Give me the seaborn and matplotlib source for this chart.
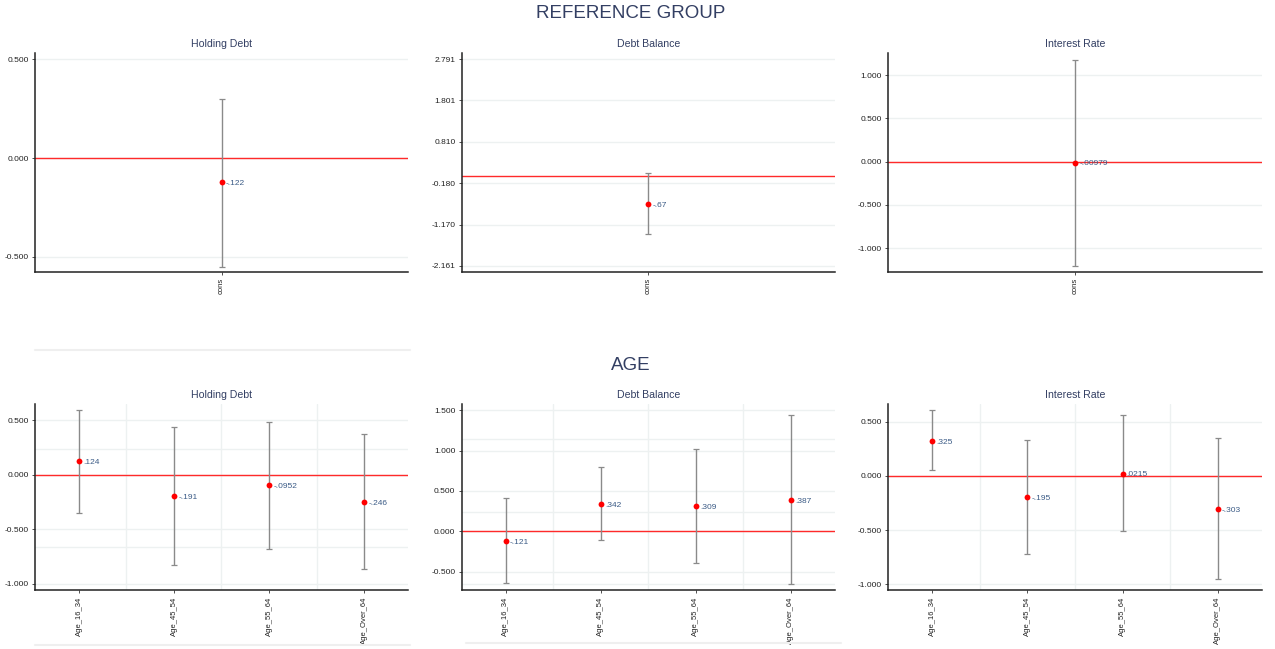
import numpy as np
import pandas as pd
import matplotlib
matplotlib.use("Agg")
import matplotlib.pyplot as plt
from matplotlib.lines import Line2D
import seaborn as sns

# ---------------- data ----------------
ref_cats = ["cons"]
ref_holding = [-0.122]
ref_holding_lo = [-0.549]
ref_holding_hi = [0.301]
ref_holding_lbl = ["-.122"]

ref_balance = [-0.67]
ref_balance_lo = [-1.40]
ref_balance_hi = [0.06]
ref_balance_lbl = ["-.67"]

ref_rate = [-0.00979]
ref_rate_lo = [-1.207]
ref_rate_hi = [1.179]
ref_rate_lbl = ["-.00979"]

age_cats = ["Age_16_34", "Age_45_54", "Age_55_64", "Age_Over_64"]
age_holding = [0.124, -0.191, -0.0952, -0.246]
age_holding_lo = [-0.351, -0.829, -0.682, -0.865]
age_holding_hi = [0.596, 0.443, 0.489, 0.373]
age_holding_lbl = [".124", "-.191", "-.0952", "-.246"]

age_balance = [-0.121, 0.342, 0.309, 0.387]
age_balance_lo = [-0.644, -0.111, -0.396, -0.656]
age_balance_hi = [0.412, 0.800, 1.019, 1.439]
age_balance_lbl = ["-.121", ".342", ".309", ".387"]

age_rate = [0.325, -0.195, 0.0215, -0.303]
age_rate_lo = [0.050, -0.722, -0.513, -0.955]
age_rate_hi = [0.606, 0.332, 0.557, 0.347]
age_rate_lbl = [".325", "-.195", ".0215", "-.303"]

panel_titles = ["Holding Debt", "Debt Balance", "Interest Rate"]
group_titles = ["REFERENCE GROUP", "AGE"]

ticks_ref_holding = [-0.5, 0.0, 0.5]
ticks_ref_balance = [-2.161, -1.170, -0.180, 0.810, 1.801, 2.791]
ticks_ref_rate = [-1.0, -0.5, 0.0, 0.5, 1.0]
ticks_age_holding = [-1.0, -0.5, 0.0, 0.5]
ticks_age_balance = [-0.5, 0.0, 0.5, 1.0, 1.5]
ticks_age_rate = [-1.0, -0.5, 0.0, 0.5]

# ---------------- style ----------------
sns.set_theme(style="white")
plt.rcParams["font.family"] = ["Liberation Sans", "DejaVu Sans"]

TITLE_C = "#333f63"
LABEL_C = "#3b5b86"
GRID_C = "#edf1f1"
ERR_C = "#8a8a8a"

fig = plt.figure(figsize=(12.75, 6.49), dpi=100)
W, H = 1275, 649


def make_ax(left, top, width, height):
    return fig.add_axes([left / W, 1 - (top + height) / H, width / W, height / H])


lefts = [35, 461.7, 888.3]
widths = [373, 373.3, 373.4]

panels = [
    # row, col, cats, vals, lo, hi, labels, ticks, ylim, extra_grid
    (0, 0, ref_cats, ref_holding, ref_holding_lo, ref_holding_hi, ref_holding_lbl,
     ticks_ref_holding, (-0.576, 0.532), []),
    (0, 1, ref_cats, ref_balance, ref_balance_lo, ref_balance_hi, ref_balance_lbl,
     ticks_ref_balance, (-2.305, 2.935), []),
    (0, 2, ref_cats, ref_rate, ref_rate_lo, ref_rate_hi, ref_rate_lbl,
     ticks_ref_rate, (-1.277, 1.258), []),
    (1, 0, age_cats, age_holding, age_holding_lo, age_holding_hi, age_holding_lbl,
     ticks_age_holding, (-1.058, 0.651), [0.238, -0.658]),
    (1, 1, age_cats, age_balance, age_balance_lo, age_balance_hi, age_balance_lbl,
     ticks_age_balance, (-0.730, 1.576), [1.139, 0.243, -0.651]),
    (1, 2, age_cats, age_rate, age_rate_lo, age_rate_hi, age_rate_lbl,
     ticks_age_rate, (-1.056, 0.663), []),
]

for row, col, cats, vals, lo, hi, lbls, ticks, ylim, extra in panels:
    if row == 0:
        ax = make_ax(lefts[col], 53, widths[col], 219)
    else:
        ax = make_ax(lefts[col], 404, widths[col], 186.3)

    df = pd.DataFrame({"cat": cats, "val": vals, "lo": lo, "hi": hi})
    pos = np.arange(len(cats))

    # gridlines
    for t in ticks:
        ax.axhline(t, color=GRID_C, lw=1.0, zorder=0)
    for t in extra:
        ax.axhline(t, color=GRID_C, lw=1.0, zorder=0)
    if len(cats) > 1:
        for p in pos[:-1] + 0.5:
            ax.axvline(p, color=GRID_C, lw=1.0, zorder=0)

    # zero reference line
    ax.axhline(0, color="#ff2a2a", lw=1.0, zorder=1)

    # error bars (confidence intervals)
    yerr = np.vstack([df["val"] - df["lo"], df["hi"] - df["val"]])
    ax.errorbar(pos, df["val"], yerr=yerr, fmt="none", ecolor=ERR_C,
                elinewidth=1.0, capsize=2, capthick=0.9, zorder=2)

    # points
    sns.stripplot(data=df, x="cat", y="val", jitter=False, color="red",
                  size=4.2, linewidth=0, ax=ax, zorder=3)

    # value labels
    for p, v, s in zip(pos, df["val"], lbls):
        ax.annotate(s, xy=(p, v), xytext=(3, -1), textcoords="offset points",
                    ha="left", va="center", fontsize=6, color=LABEL_C, zorder=4)

    if len(cats) > 1:
        ax.set_xlim(-0.463, len(cats) - 1 + 0.463)
    else:
        ax.set_xlim(-0.5, 0.5)
    ax.set_ylim(*ylim)
    ax.set_yticks(ticks)
    ax.set_yticklabels([f"{t:.3f}" for t in ticks])
    ax.set_xticks(pos)
    ax.set_xticklabels(cats, rotation=90)
    ax.set_xlabel("")
    ax.set_ylabel("")
    ax.tick_params(axis="both", length=2.5, width=0.6,
                   color="#333333", pad=2, labelcolor="#222222",
                   bottom=True, left=True)
    ax.tick_params(axis="y", labelsize=6)
    ax.tick_params(axis="x", labelsize=5.5)
    sns.despine(ax=ax)
    for sp in ["left", "bottom"]:
        ax.spines[sp].set_color("#222222")
        ax.spines[sp].set_linewidth(1.1)
    ax.set_title(panel_titles[col], fontsize=7.6, color=TITLE_C, pad=4)

# group titles
for txt, yy in zip(group_titles, [13, 365]):
    fig.text(631 / W, 1 - yy / H, txt, ha="center", va="center",
             fontsize=13.5, color=TITLE_C)

# faint separator lines below panels
for x0, x1, yy in [(35, 410, 350), (35, 410, 645), (466, 841, 643)]:
    fig.add_artist(Line2D([x0 / W, x1 / W], [1 - yy / H, 1 - yy / H],
                          transform=fig.transFigure, color="#efefef", lw=1.5))

fig.savefig("out.png", dpi=100)
